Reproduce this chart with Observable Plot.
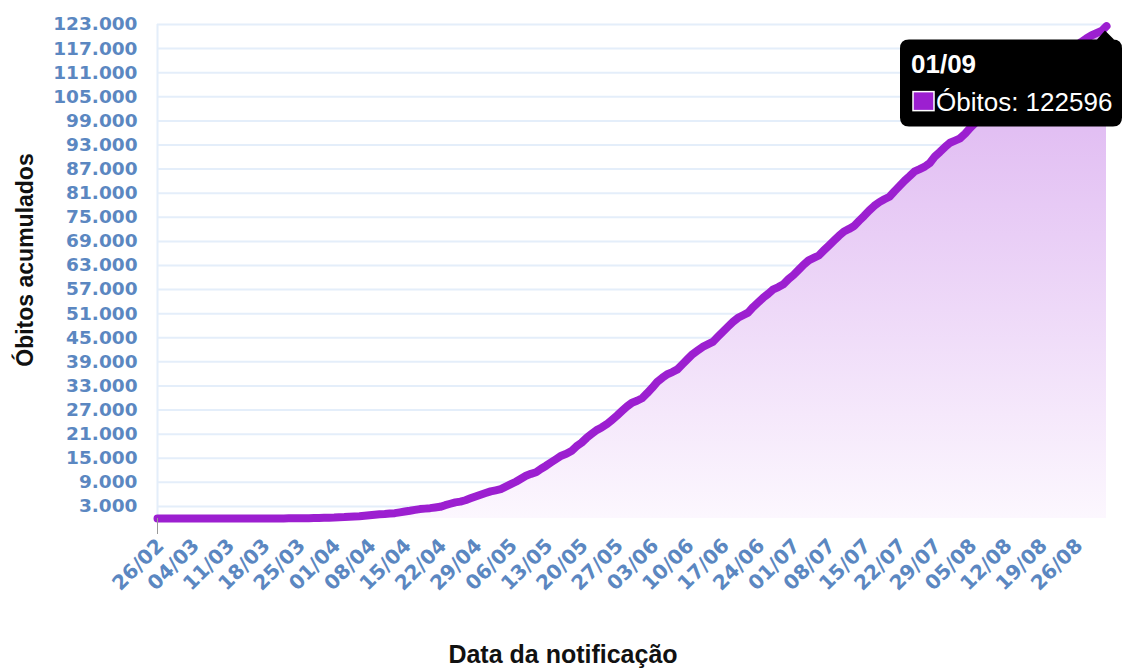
<!DOCTYPE html>
<html><head><meta charset="utf-8">
<script src="https://cdn.jsdelivr.net/npm/d3@7"></script>
<script src="https://cdn.jsdelivr.net/npm/@observablehq/plot@0.6"></script>
<style>body{margin:0;background:#fff} svg{display:block}</style>
</head><body><div id="chart"></div>
<script>
// Óbitos acumulados por data de notificação (2020)
const obitosFev = [0, 0, 0, 0]; // 26/02 – 29/02
const obitosMar = [0,0,0,0,0,0,0,0,0,0,0,0,0,0,0,0,1,4,7,11,18,25,34,46,59,77,92,111,136,159,201];
const obitosAbr = [240,324,359,445,486,553,667,800,941,1056,1124,1223,1328,1532,1736,1924,2141,2347,2462,2575,2741,2906,3313,3670,4016,4205,4543,5017,5466,5901];
const obitosMai = [6329,6750,7025,7321,7921,8536,9146,9897,10627,11123,11519,12400,13149,13993,14817,15633,16118,16792,17971,18859,20047,21048,22013,22666,23473,24512,25598,26754,27878,28834,29314];
const obitosJun = [29937,31199,32548,34021,35026,35930,36455,37134,38406,39680,40919,41828,42720,43332,43959,45241,46510,47748,48954,49976,50617,51271,52645,53830,54971,55961,57070,57622,58314,59594];
const obitosJul = [60632,61884,63174,64265,64867,65487,66741,67964,69184,70398,71469,72100,72833,74133,75366,76688,77851,78772,79488,80120,81487,82771,84082,85238,86449,87004,87618,88539,90134,91263,92475];
const obitosAgo = [93563,94104,94665,95819,97256,98493,99572,100477,101049,101752,103026,104201,105463,106523,107232,107852,108536,109888,111100,112304,113358,114250,114744,115309,116580,117665,118649,119504,120262,120828,121381];
const obitosSet = [122596]; // 01/09

const xTickLabels = ["26/02","04/03","11/03","18/03","25/03","01/04","08/04","15/04","22/04","29/04","06/05","13/05","20/05","27/05","03/06","10/06","17/06","24/06","01/07","08/07","15/07","22/07","29/07","05/08","12/08","19/08","26/08"];
const yTicks = [3000,9000,15000,21000,27000,33000,39000,45000,51000,57000,63000,69000,75000,81000,87000,93000,99000,105000,111000,117000,123000];
const tooltipLabel = "01/09";
const tooltipSerie = "Óbitos";

const parseDM = s => { const [d, m] = s.split("/").map(Number); return new Date(Date.UTC(2020, m - 1, d)); };
const inicio = parseDM("26/02");
const valores = [...obitosFev, ...obitosMar, ...obitosAbr, ...obitosMai, ...obitosJun, ...obitosJul, ...obitosAgo, ...obitosSet];
const serie = valores.map((v, i) => ({data: d3.utcDay.offset(inicio, i), obitos: v}));
const ultimo = serie[serie.length - 1];
const xTicks = xTickLabels.map(parseDM);
const fmt = d3.formatLocale({decimal: ",", thousands: ".", grouping: [3], currency: ["R$", ""]}).format(",");

const purple = "#9c1fd0";
const grid = "#e4eefa";
const tickColor = "#5b87c1";

const plot = Plot.plot({
  width: 1131, height: 668,
  marginLeft: 157, marginRight: 25, marginTop: 24, marginBottom: 150,
  x: {type: "utc", domain: [inicio, ultimo.data]},
  y: {domain: [0, 123000]},
  style: {background: "#fff", fontFamily: "DejaVu Sans"},
  marks: [
    () => {
      const defs = d3.create("svg:defs");
      const g = defs.append("linearGradient").attr("id", "grad").attr("x1", 0).attr("y1", 0).attr("x2", 0).attr("y2", 1);
      g.append("stop").attr("offset", "0%").attr("stop-color", "#dbb0f0");
      g.append("stop").attr("offset", "100%").attr("stop-color", "#fcf7fe");
      return defs.node();
    },
    Plot.ruleY(yTicks, {stroke: grid, strokeWidth: 2}),
    Plot.ruleX([inicio], {stroke: grid, strokeWidth: 2}),
    Plot.areaY(serie, {x: "data", y: "obitos", fill: "url(#grad)"}),
    Plot.lineY(serie, {x: "data", y: "obitos", stroke: purple, strokeWidth: 8, strokeLinecap: "round", strokeLinejoin: "round"}),
    Plot.axisY({ticks: yTicks, tickFormat: fmt, tickSize: 0, tickPadding: 20, fontSize: 18.5, fontWeight: "bold", fill: tickColor, label: null}),
    Plot.axisX({ticks: xTicks, tickFormat: d3.utcFormat("%d/%m"), tickRotate: -45, tickSize: 0, tickPadding: 24, dx: 3, fontSize: 20, fontWeight: "bold", fill: tickColor, label: null}),
    Plot.axisX([inicio], {tickSize: 16, stroke: "#999", text: null, label: null})
  ]
});

const svg = d3.select(plot);
// títulos dos eixos
svg.append("text").text("Óbitos acumulados")
  .attr("transform", "translate(33,260) rotate(-90)")
  .attr("text-anchor", "middle").attr("font-family", "Liberation Sans, Arial, sans-serif")
  .attr("font-weight", "bold").attr("font-size", 23).attr("fill", "#111");
svg.append("text").text("Data da notificação")
  .attr("x", 563).attr("y", 663)
  .attr("text-anchor", "middle").attr("font-family", "Liberation Sans, Arial, sans-serif")
  .attr("font-weight", "bold").attr("font-size", 25).attr("fill", "#111");

// tooltip no último ponto
const px = plot.scale("x").apply(ultimo.data);
const py = plot.scale("y").apply(ultimo.obitos);
const tip = svg.append("g").attr("font-family", "Liberation Sans, Arial, sans-serif").attr("text-anchor", "start");
const rx = px - 206, ry = py + 14, rw = 222, rh = 87, r = 9;
tip.append("path").attr("fill", "#000")
  .attr("d", `M${rx + r},${ry} H${px - 9} L${px - 1},${py + 5} L${px + 8},${ry} H${rx + rw - r} Q${rx + rw},${ry} ${rx + rw},${ry + r} V${ry + rh - r} Q${rx + rw},${ry + rh} ${rx + rw - r},${ry + rh} H${rx + r} Q${rx},${ry + rh} ${rx},${ry + rh - r} V${ry + r} Q${rx},${ry} ${rx + r},${ry} Z`);
tip.append("text").text(tooltipLabel).attr("x", rx + 11).attr("y", ry + 33)
  .attr("text-anchor", "start")
  .attr("fill", "#fff").attr("font-weight", "bold").attr("font-size", 26);
tip.append("rect").attr("x", rx + 13).attr("y", ry + 52).attr("width", 21).attr("height", 19)
  .attr("fill", purple).attr("stroke", "#fff").attr("stroke-width", 1.5);
tip.append("text").text(`${tooltipSerie}: ${ultimo.obitos}`).attr("x", rx + 36).attr("y", ry + 71)
  .attr("text-anchor", "start")
  .attr("fill", "#fff").attr("font-size", 26);

document.getElementById("chart").append(plot);
</script>
</body></html>
